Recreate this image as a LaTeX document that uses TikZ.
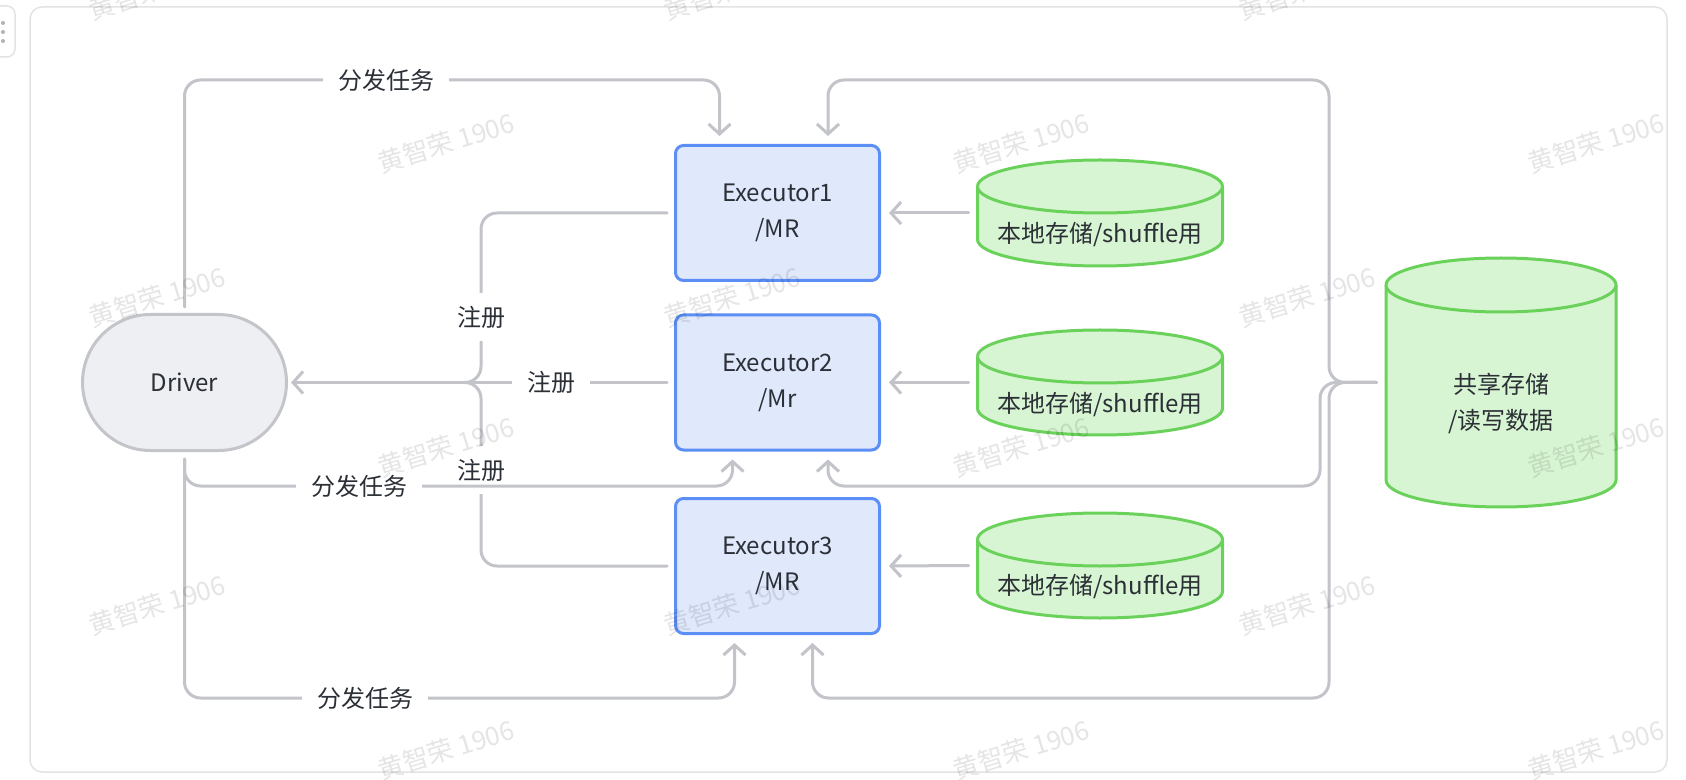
\documentclass[tikz,border=0pt]{standalone}
\usepackage{fontspec}
\setmainfont{Noto Sans CJK SC}
\usetikzlibrary{arrows.meta,calc}
\definecolor{linegray}{HTML}{C2C4C9}
\definecolor{drvfill}{HTML}{EEEFF2}
\definecolor{drvdraw}{HTML}{C3C5CA}
\definecolor{exfill}{HTML}{E0E8FC}
\definecolor{exdraw}{HTML}{5B8FF5}
\definecolor{cylfill}{HTML}{D8F5D3}
\definecolor{cyldraw}{HTML}{6AD25B}
\definecolor{txtc}{HTML}{2B2F36}
\definecolor{framec}{HTML}{E2E3E6}
\newcommand\cylshape[5]{%
  \pgfmathsetmacro\cylXl{#1-#4}\pgfmathsetmacro\cylXr{#1+#4}%
  \pgfmathsetmacro\cylYt{#2+#5}\pgfmathsetmacro\cylYb{#3-#5}%
  \pgfmathsetmacro\cylRx{#4/2}\pgfmathsetmacro\cylRy{#5/2}%
  \filldraw[cylpath] (\cylXl,\cylYt) -- (\cylXl,\cylYb)
    arc[start angle=180,end angle=360,x radius=\cylRx pt,y radius=\cylRy pt]
    -- (\cylXr,\cylYt)
    arc[start angle=0,end angle=180,x radius=\cylRx pt,y radius=\cylRy pt] -- cycle;
  \draw[cylpath] (\cylXl,\cylYt)
    arc[start angle=180,end angle=360,x radius=\cylRx pt,y radius=\cylRy pt];
}
\begin{document}
\begin{tikzpicture}[x=0.5pt,y=-0.5pt,
  every node/.style={text=txtc, font=\fontsize{12}{18}\selectfont},
  conn/.style={draw=linegray, line width=1.5pt, rounded corners=8pt, line cap=round, line join=round},
  arr/.style={-{Straight Barb[length=5pt,width=11pt]}},
  drv/.style={draw=drvdraw, fill=drvfill, line width=1.5pt, minimum width=102pt, minimum height=68pt, rounded corners=34pt},
  exbox/.style={draw=exdraw, fill=exfill, line width=1.5pt, minimum width=102pt, minimum height=67.5pt, rounded corners=4pt, align=center},
  cylnode/.style={minimum width=#1, inner sep=0pt},
  cylpath/.style={draw=cyldraw, fill=cylfill, line width=1.5pt},
  lbl/.style={fill=white, inner xsep=7.5pt, inner ysep=2pt},
  lblv/.style={fill=white, inner xsep=2pt, inner ysep=6.5pt},
  wm/.style={text=black, text opacity=0.1, rotate=17, font=\fontsize{13}{13}\selectfont}
]
\useasboundingbox (0,0) rectangle (1686,780);
\fill[white] (0,0) rectangle (1686,780);
% window frame and handle
\draw[draw=framec, line width=0.75pt, rounded corners=6pt] (30,7) rectangle (1667,772);
\draw[draw=framec, line width=0.75pt, rounded corners=4pt] (-10,6) rectangle (15,57);
\fill[gray!60] (3,23) circle (1pt) (3,32) circle (1pt) (3,41) circle (1pt);

% nodes
\node[drv] (driver) at (184.5,382.5) {Driver};
\node[exbox] (e1) at (777.5,213) {Executor1\\/MR};
\node[exbox] (e2) at (777.5,382.5) {Executor2\\/Mr};
\node[exbox] (e3) at (777.5,566) {Executor3\\/MR};

\cylshape{1100}{160}{266}{122.5}{26.5}
\cylshape{1100}{330}{435}{122.5}{26.5}
\cylshape{1100}{513}{618}{122.5}{26.5}
\cylshape{1501}{258}{507}{115}{27}
\node[minimum width=124pt, minimum height=53pt, inner sep=0pt] (c1) at (1100,213) {};
\node[minimum width=124pt, minimum height=52.5pt, inner sep=0pt] (c2) at (1100,382.5) {};
\node[minimum width=124pt, minimum height=52.5pt, inner sep=0pt] (c3) at (1100,565.5) {};
\node[minimum width=116pt, minimum height=124.5pt, inner sep=0pt] (share) at (1501,382.5) {};
\node (c1t) at ($(c1.center)+(0,21.5)$) {本地存储/shuffle用};
\node (c2t) at ($(c2.center)+(0,22)$) {本地存储/shuffle用};
\node (c3t) at ($(c3.center)+(0,21.5)$) {本地存储/shuffle用};
\node[align=center] (sharet) at ($(share.center)+(0,21)$) {共享存储\\/读写数据};

% helper coordinates
\coordinate (ytop) at (0,80);
\coordinate (ymid) at (0,486);
\coordinate (ybot) at (0,698);
\coordinate (jL) at (481,382.5);
\coordinate (jLend) at ($(jL)+(-16,0)$);
\coordinate (jR) at (1329,382.5);
\coordinate (jR2) at (1320,382.5);
\coordinate (e1inL) at ($(e1.north west)+(45.5,0)$);
\coordinate (e1inR) at ($(e1.north east)+(-53,0)$);
\coordinate (e2inL) at ($(e2.south west)+(58.5,0)$);
\coordinate (e2inR) at ($(e2.south east)+(-53,0)$);
\coordinate (e3inL) at ($(e3.south west)+(60.5,0)$);
\coordinate (e3inR) at ($(e3.south east)+(-68.5,0)$);

% local storage -> executors
\draw[conn,arr,shorten <=3.5pt,shorten >=4pt] (c1.west) -- (e1.east);
\draw[conn,arr,shorten <=3.5pt,shorten >=4pt] (c2.west) -- (e2.east);
\draw[conn,arr,shorten <=3.5pt,shorten >=4pt] (c3.west) -- (e3.east);

% register
\draw[conn,shorten <=3.5pt] (e1.west) -- (e1.west -| jL) -- (jL) -- (jLend);
\draw[conn,shorten <=3.5pt] (e3.west) -- (e3.west -| jL) -- (jL) -- (jLend);
\draw[conn,arr,shorten <=3.5pt,shorten >=1.5pt] (e2.west) -- (driver.east);
\node[lblv] (r1) at (481,317) {注册};
\node[lbl] (r2) at (551,382.5) {注册};
\node[lblv] (r3) at (481,470) {注册};

% shared storage -> executors
\draw[conn,arr,shorten <=4pt,shorten >=4pt] (share.west) -- (jR) -- (jR |- ytop) -- (e1inR |- ytop) -- (e1inR);
\draw[conn,arr,shorten <=4pt,shorten >=4pt] (share.west) -- (jR2) -- (jR2 |- ymid) -- (e2inR |- ymid) -- (e2inR);
\draw[conn,arr,shorten <=4pt,shorten >=4pt] (share.west) -- (jR) -- (jR |- ybot) -- (e3inR |- ybot) -- (e3inR);

% dispatch tasks
\draw[conn,arr,shorten <=3pt,shorten >=4pt] (driver.north) -- (driver.north |- ytop) -- (e1inL |- ytop) -- (e1inL);
\draw[conn,arr,shorten <=3.5pt,shorten >=4pt] (driver.south) -- (driver.south |- ymid) -- (e2inL |- ymid) -- (e2inL);
\draw[conn,arr,shorten <=3.5pt,shorten >=4pt] (driver.south) -- (driver.south |- ybot) -- (e3inL |- ybot) -- (e3inL);
\node[lbl] (l1) at (386,80) {分发任务};
\node[lbl] (l2) at (359,486) {分发任务};
\node[lbl] (l3) at (365,698) {分发任务};

% watermarks
\foreach \wx/\wy [count=\k] in {157/-10,732/-10,1307/-10,446/143,1021/143,1596/143,157/297,732/297,1307/297,446/447,1021/447,1596/447,157/605,732/605,1307/605,446/750,1021/750,1596/750}
  \node[wm] (wm\k) at (\wx,\wy) {黄智荣 1906};
\end{tikzpicture}
\end{document}
